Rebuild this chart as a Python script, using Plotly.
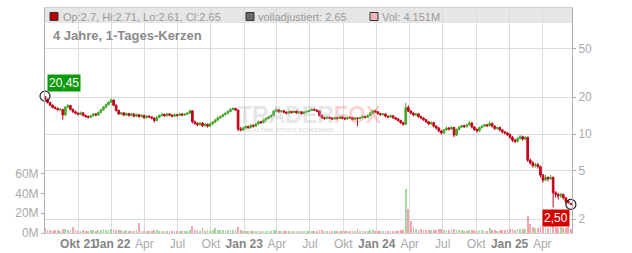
import math
import plotly.graph_objects as go
import pandas as pd

# ---------------- data (weekly candles) ----------------
dates = pd.date_range("2021-07-01", periods=208, freq="7D")

opens = [
    20.3, 19.2, 18.1, 17.2, 16.5, 16.2, 15.8, 15.9, 14.3, 16.6,
    17.1, 15.9, 15.2, 14.8, 14.5, 14.9, 14.2, 13.9, 13.7, 14.1,
    14.6, 14.3, 15.0, 15.8, 16.6, 17.4, 18.2, 19.0, 17.2, 15.6,
    14.6, 14.9, 14.3, 14.7, 14.2, 14.6, 14.0, 14.4, 13.9, 14.2,
    13.6, 14.0, 13.8, 13.5, 12.9, 13.7, 14.2, 14.5, 14.1, 14.6,
    14.3, 14.0, 14.4, 14.2, 14.6, 14.3, 14.5, 14.8, 15.5, 12.6,
    12.2, 11.9, 12.3, 11.7, 12.0, 11.6, 12.1, 12.5, 13.0, 13.6,
    13.9, 14.4, 14.8, 15.3, 15.9, 16.2, 15.7, 11.0, 10.8, 11.2,
    11.5, 11.3, 11.8, 11.6, 12.1, 12.6, 12.4, 13.0, 13.4, 13.8,
    14.2, 15.4, 15.8, 15.2, 15.5, 15.1, 14.8, 15.3, 15.0, 15.4,
    14.9, 15.2, 14.7, 15.1, 15.3, 15.6, 15.9, 15.7, 15.4, 14.2,
    13.6, 13.4, 13.7, 13.5, 13.3, 13.6, 13.4, 13.8, 13.5, 13.3,
    13.7, 13.6, 13.2, 13.5, 13.4, 13.6, 13.9, 13.7, 14.2, 14.8,
    15.5, 15.2, 14.7, 14.4, 14.6, 14.0, 13.8, 14.1, 13.6, 13.3,
    12.9, 12.4, 12.0, 16.5, 15.4, 14.8, 14.3, 14.6, 13.9, 13.5,
    13.1, 12.6, 12.1, 12.4, 11.6, 11.2, 10.6, 10.2, 10.8, 11.2,
    11.0, 11.3, 9.8, 10.9, 11.4, 11.7, 11.5, 11.9, 12.3, 11.4,
    10.9, 10.6, 11.3, 11.6, 11.9, 11.7, 12.2, 11.6, 11.1, 11.3,
    10.8, 10.4, 10.2, 9.9, 9.4, 8.9, 8.7, 9.2, 9.5, 9.1,
    9.4, 6.1, 5.8, 5.5, 5.6, 5.4, 4.6, 4.2, 4.4, 4.3,
    4.4, 3.3, 3.2, 3.1, 3.2, 3.0, 2.8, 2.7,
]
highs = [
    20.45, 19.5, 18.4, 17.5, 16.9, 16.5, 16.4, 16.1, 16.9, 17.6,
    17.3, 16.2, 15.5, 15.1, 15.3, 15.1, 14.4, 14.2, 14.4, 14.9,
    14.8, 15.3, 16.1, 16.9, 17.8, 18.6, 19.5, 19.2, 17.5, 15.9,
    15.2, 15.1, 15.0, 14.9, 14.9, 14.8, 14.7, 14.6, 14.5, 14.4,
    14.3, 14.2, 14.0, 13.7, 14.0, 14.5, 14.8, 14.7, 14.9, 14.8,
    14.5, 14.7, 14.6, 14.9, 14.8, 14.8, 15.1, 15.8, 15.6, 12.9,
    12.5, 12.6, 12.5, 12.3, 12.2, 12.4, 12.8, 13.3, 13.9, 14.2,
    14.7, 15.1, 15.6, 16.3, 16.6, 16.4, 15.9, 11.4, 11.5, 11.8,
    11.7, 12.0, 12.0, 12.3, 12.9, 12.8, 13.2, 13.7, 14.1, 14.5,
    15.7, 16.1, 16.0, 15.8, 15.7, 15.3, 15.6, 15.5, 15.7, 15.6,
    15.5, 15.4, 15.4, 15.6, 15.9, 16.3, 16.2, 15.9, 15.6, 14.4,
    13.9, 14.0, 13.9, 13.7, 13.9, 13.8, 14.1, 14.0, 13.7, 14.0,
    13.9, 13.8, 13.8, 13.7, 13.9, 14.2, 14.1, 14.5, 15.1, 15.8,
    15.7, 15.4, 14.9, 14.9, 14.8, 14.2, 14.4, 14.3, 13.8, 13.5,
    13.1, 12.6, 18.0, 17.2, 15.7, 15.1, 14.9, 14.8, 14.1, 13.7,
    13.3, 12.8, 12.7, 12.6, 11.8, 11.4, 10.8, 11.0, 11.5, 11.4,
    11.6, 11.5, 11.1, 11.6, 11.9, 11.9, 12.1, 12.8, 12.5, 11.6,
    11.1, 11.5, 11.8, 12.1, 12.1, 12.7, 12.4, 11.8, 11.5, 11.5,
    11.0, 10.6, 10.4, 10.1, 9.6, 9.1, 9.4, 9.8, 9.7, 9.6,
    9.5, 6.3, 6.0, 5.8, 5.8, 5.5, 4.7, 4.6, 4.5, 4.6,
    4.5, 3.4, 3.3, 3.3, 3.25, 3.05, 2.9, 2.71,
]
lows = [
    19.0, 17.8, 16.9, 16.2, 15.9, 15.5, 15.4, 13.1, 14.1, 16.3,
    15.6, 14.9, 14.5, 14.2, 14.3, 13.9, 13.6, 13.4, 13.5, 13.9,
    14.0, 14.1, 14.8, 15.5, 16.3, 17.1, 17.9, 16.9, 15.3, 14.3,
    14.3, 14.0, 14.1, 13.9, 14.0, 13.7, 13.8, 13.6, 13.7, 13.3,
    13.4, 13.5, 13.2, 12.4, 12.7, 13.5, 13.9, 13.8, 13.9, 14.0,
    13.7, 13.8, 13.9, 14.0, 14.0, 14.1, 14.3, 14.6, 12.2, 11.9,
    11.6, 11.7, 11.4, 11.5, 11.3, 11.4, 11.9, 12.3, 12.8, 13.3,
    13.7, 14.2, 14.6, 15.1, 15.6, 15.4, 10.5, 10.5, 10.6, 11.0,
    11.0, 11.1, 11.3, 11.4, 11.9, 12.1, 12.2, 12.8, 13.2, 13.6,
    14.0, 15.1, 14.9, 15.0, 14.8, 14.5, 14.6, 14.7, 14.8, 14.6,
    14.7, 14.4, 14.5, 14.9, 15.1, 15.4, 15.4, 15.1, 13.9, 13.3,
    13.1, 13.2, 13.2, 13.0, 13.1, 13.1, 13.2, 13.2, 13.0, 13.1,
    13.3, 12.9, 13.0, 11.6, 13.2, 13.4, 13.4, 13.5, 14.0, 14.6,
    14.9, 14.4, 14.1, 14.2, 13.7, 13.5, 13.6, 13.3, 13.0, 12.6,
    12.1, 11.7, 11.9, 15.1, 14.5, 14.0, 14.1, 13.6, 13.2, 12.8,
    12.3, 11.8, 11.9, 11.3, 10.9, 10.3, 9.9, 10.0, 10.6, 10.7,
    10.8, 9.4, 9.6, 10.7, 11.2, 11.2, 11.3, 11.7, 11.1, 10.6,
    10.3, 10.4, 11.1, 11.4, 11.4, 11.5, 11.3, 10.8, 10.9, 10.5,
    10.1, 9.9, 9.6, 9.1, 8.6, 8.4, 8.5, 9.0, 8.8, 8.9,
    5.9, 5.6, 5.3, 5.3, 5.2, 4.4, 4.0, 4.1, 4.1, 4.2,
    2.5, 3.0, 2.9, 3.0, 2.9, 2.7, 2.68, 2.61,
]
closes = [
    19.2, 18.1, 17.2, 16.5, 16.2, 15.8, 15.9, 14.3, 16.6, 17.1,
    15.9, 15.2, 14.8, 14.5, 14.9, 14.2, 13.9, 13.7, 14.1, 14.6,
    14.3, 15.0, 15.8, 16.6, 17.4, 18.2, 19.0, 17.2, 15.6, 14.6,
    14.9, 14.3, 14.7, 14.2, 14.6, 14.0, 14.4, 13.9, 14.2, 13.6,
    14.0, 13.8, 13.5, 12.9, 13.7, 14.2, 14.5, 14.1, 14.6, 14.3,
    14.0, 14.4, 14.2, 14.6, 14.3, 14.5, 14.8, 15.5, 12.6, 12.2,
    11.9, 12.3, 11.7, 12.0, 11.6, 12.1, 12.5, 13.0, 13.6, 13.9,
    14.4, 14.8, 15.3, 15.9, 16.2, 15.7, 11.0, 10.8, 11.2, 11.5,
    11.3, 11.8, 11.6, 12.1, 12.6, 12.4, 13.0, 13.4, 13.8, 14.2,
    15.4, 15.8, 15.2, 15.5, 15.1, 14.8, 15.3, 15.0, 15.4, 14.9,
    15.2, 14.7, 15.1, 15.3, 15.6, 15.9, 15.7, 15.4, 14.2, 13.6,
    13.4, 13.7, 13.5, 13.3, 13.6, 13.4, 13.8, 13.5, 13.3, 13.7,
    13.6, 13.2, 13.5, 13.4, 13.6, 13.9, 13.7, 14.2, 14.8, 15.5,
    15.2, 14.7, 14.4, 14.6, 14.0, 13.8, 14.1, 13.6, 13.3, 12.9,
    12.4, 12.0, 16.5, 15.4, 14.8, 14.3, 14.6, 13.9, 13.5, 13.1,
    12.6, 12.1, 12.4, 11.6, 11.2, 10.6, 10.2, 10.8, 11.2, 11.0,
    11.3, 9.8, 10.9, 11.4, 11.7, 11.5, 11.9, 12.3, 11.4, 10.9,
    10.6, 11.3, 11.6, 11.9, 11.7, 12.2, 11.6, 11.1, 11.3, 10.8,
    10.4, 10.2, 9.9, 9.4, 8.9, 8.7, 9.2, 9.5, 9.1, 9.4,
    6.1, 5.8, 5.5, 5.6, 5.4, 4.6, 4.2, 4.4, 4.3, 4.4,
    3.3, 3.2, 3.1, 3.2, 3.0, 2.8, 2.75, 2.65,
]
volumes_m = [
    5.5, 3.5, 3.0, 2.5, 2.8, 3.2, 2.4, 4.5, 4.0, 3.0,
    3.2, 6.0, 2.6, 2.4, 2.2, 3.0, 2.5, 2.3, 2.6, 3.5,
    2.4, 3.0, 3.2, 3.8, 3.5, 3.3, 4.0, 3.8, 3.4, 3.0,
    2.6, 2.4, 2.8, 2.2, 2.5, 2.3, 2.6, 10.0, 2.5, 2.4,
    2.2, 2.0, 2.4, 3.5, 2.6, 2.3, 2.1, 2.4, 2.2, 2.0,
    2.3, 2.1, 2.4, 2.2, 2.0, 2.3, 2.5, 3.0, 7.0, 3.5,
    3.0, 2.5, 5.5, 2.4, 2.6, 2.2, 3.0, 5.0, 3.2, 2.8,
    2.6, 2.5, 2.8, 3.0, 2.7, 2.6, 6.0, 3.2, 2.4, 2.2,
    2.0, 2.2, 2.1, 2.4, 2.3, 2.0, 2.2, 2.5, 2.3, 2.1,
    3.5, 3.0, 2.4, 2.2, 2.0, 2.1, 2.3, 2.0, 2.2, 2.1,
    2.0, 1.9, 2.2, 2.1, 2.3, 2.4, 2.0, 2.2, 3.5, 2.6,
    2.2, 2.0, 2.1, 1.9, 2.0, 2.2, 2.1, 2.0, 1.9, 2.1,
    2.0, 2.2, 2.1, 3.8, 2.2, 2.0, 2.1, 2.3, 2.6, 2.8,
    2.4, 2.2, 2.0, 2.1, 2.3, 2.2, 2.0, 2.2, 2.3, 2.4,
    2.6, 3.0, 44.0, 24.0, 12.0, 6.0, 4.5, 3.5, 3.8, 3.2,
    3.0, 3.4, 3.0, 3.5, 3.2, 4.0, 3.6, 3.0, 2.8, 2.6,
    2.7, 4.2, 3.0, 2.8, 2.6, 2.4, 2.5, 3.0, 2.8, 2.6,
    2.5, 2.7, 2.6, 2.5, 2.4, 5.5, 2.8, 2.6, 2.5, 2.7,
    3.0, 2.8, 3.2, 3.6, 4.0, 3.5, 3.8, 4.5, 3.6, 4.0,
    17.5, 9.5, 6.0, 5.0, 5.5, 7.5, 6.5, 9.0, 5.5, 6.0,
    10.0, 6.5, 5.5, 6.0, 5.0, 5.5, 6.0, 4.2,
]
assert len(opens) == len(highs) == len(lows) == len(closes) == len(volumes_m) == len(dates)

price_ticks = [2, 5, 10, 20, 50]
vol_ticks_m = [0, 20, 40, 60]
vol_tick_labels = ["0M", "20M", "40M", "60M"]
quarter_dates = ["2021-10-01", "2022-01-01", "2022-04-01", "2022-07-01", "2022-10-01",
                 "2023-01-01", "2023-04-01", "2023-07-01", "2023-10-01", "2024-01-01",
                 "2024-04-01", "2024-07-01", "2024-10-01", "2025-01-01", "2025-04-01"]
quarter_labels = ["Okt 21", "Jan 22", "Apr", "Jul", "Okt", "Jan 23", "Apr", "Jul", "Okt",
                  "Jan 24", "Apr", "Jul", "Okt", "Jan 25", "Apr"]
bold_flags = [True, True, False, False, False, True, False, False, False,
              True, False, False, False, True, False]
header_items = ["Op:2.7, Hi:2.71, Lo:2.61, Cl:2.65", "volladjustiert: 2.65", "Vol: 4.151M"]
title_text = "4 Jahre, 1-Tages-Kerzen"
start_label = "20,45"
min_label = "2,50"
min_value = 2.50
min_index = 200

# ---------------- styling / geometry ----------------
W, H = 632, 253
ML, MR, MT, MB = 45, 60, 8, 20
PW, PH = W - ML - MR, H - MT - MB
FONT = "Liberation Sans, Arial, sans-serif"
GREEN, RED = "#48a62a", "#c40018"
VGREEN, VPINK = "rgba(150,210,145,0.85)", "rgba(240,150,160,0.85)"


def px(x):
    return (x - ML) / PW


def py(y):
    return (H - MB - y) / PH


vol_colors = [VGREEN if c >= o else VPINK for o, c in zip(opens, closes)]

fig = go.Figure()
fig.add_trace(go.Bar(
    x=dates, y=[v * 1e6 for v in volumes_m], marker_color=vol_colors,
    marker_line_width=0, width=7 * 86400000 * 0.7, yaxis="y", hoverinfo="skip"))
fig.add_trace(go.Candlestick(
    x=dates, open=opens, high=highs, low=lows, close=closes, yaxis="y2",
    increasing=dict(line=dict(color=GREEN, width=1), fillcolor=GREEN),
    decreasing=dict(line=dict(color=RED, width=1), fillcolor=RED),
    whiskerwidth=0))
fig.add_trace(go.Scatter(
    x=[dates[0], dates[-1]], y=[highs[0], closes[-1]], yaxis="y2", mode="markers",
    marker=dict(symbol="circle-open", size=10, color="#222", line=dict(width=1.2)),
    cliponaxis=False, hoverinfo="skip"))

ticktext = [f"<b><span style='color:#858585'>{t}</span></b>" if b else t
            for t, b in zip(quarter_labels, bold_flags)]

shapes = [
    dict(type="rect", xref="paper", yref="paper", x0=0, x1=1, y0=py(23), y1=1,
         fillcolor="#e6e6e6", line=dict(width=0), layer="below"),
]
sq_x = [50, 246, 370]
sq_fill = ["#c00000", "#6a6a6a", "#f2b3bb"]
for x0, fc in zip(sq_x, sq_fill):
    shapes.append(dict(type="rect", xref="paper", yref="paper", x0=px(x0), x1=px(x0 + 8),
                       y0=py(20.5), y1=py(12.5), fillcolor=fc, line=dict(color="#333", width=1)))

annotations = []
text_x = [61, 256, 380]
for tx, txt in zip(text_x, header_items):
    annotations.append(dict(xref="paper", yref="paper", x=px(tx), y=py(16.5), text=txt,
                            showarrow=False, xanchor="left", yanchor="middle",
                            font=dict(family=FONT, size=11, color="#9a9a9a")))
annotations.append(dict(xref="paper", yref="paper", x=px(51), y=py(35), text=f"<b>{title_text}</b>",
                        showarrow=False, xanchor="left", yanchor="middle",
                        font=dict(family=FONT, size=13, color="#8a8a8a")))
# watermark
annotations.append(dict(xref="paper", yref="paper", x=px(310), y=py(115.5),
                        text="<b><span style='color:rgba(175,175,175,0.32)'>TRADER</span>"
                             "<span style='color:rgba(240,120,120,0.32)'>FOX</span></b>",
                        showarrow=False, xanchor="center", yanchor="middle",
                        font=dict(family=FONT, size=23)))
annotations.append(dict(xref="paper", yref="paper", x=px(289), y=py(129.5),
                        text="<b>REALTIME STOCK SCREENING</b>",
                        showarrow=False, xanchor="center", yanchor="middle",
                        font=dict(family=FONT, size=6, color="rgba(175,175,175,0.4)")))
# value labels
annotations.append(dict(xref="x", yref="y2", x=dates[0], y=math.log10(highs[0]),
                        text=start_label, showarrow=False, xanchor="left", yanchor="bottom",
                        xshift=2, yshift=4, bgcolor="#0c9a0c", borderpad=1,
                        font=dict(family=FONT, size=12, color="white")))
annotations.append(dict(xref="x", yref="y2", x=dates[min_index], y=math.log10(min_value),
                        text=min_label, showarrow=False, xanchor="center", yanchor="top",
                        xshift=3, yshift=-2, bgcolor="#d40000", borderpad=1,
                        font=dict(family=FONT, size=12, color="white")))

fig.update_layout(
    width=W, height=H,
    margin=dict(l=ML, r=MR, t=MT, b=MB, autoexpand=False),
    paper_bgcolor="white", plot_bgcolor="white",
    showlegend=False, bargap=0, boxgap=0.35, boxgroupgap=0,
    font=dict(family=FONT, size=12, color="#aaaaaa"),
    xaxis=dict(type="date", range=["2021-07-01", "2025-06-22"], tickvals=quarter_dates,
               ticktext=ticktext, tickangle=0, showgrid=True, gridcolor="#dcdcdc", gridwidth=1,
               ticks="", showline=True, linecolor="#d0d0d0", mirror=True,
               rangeslider=dict(visible=False), tickfont=dict(size=12, color="#aaaaaa"),
               zeroline=False, fixedrange=True),
    yaxis=dict(range=[0, 227e6], side="left", tickvals=[v * 1e6 for v in vol_ticks_m],
               ticktext=vol_tick_labels, showgrid=False, zeroline=False,
               ticks="outside", ticklen=3, tickcolor="#aaaaaa", showline=True,
               linecolor="#b0b0b0", tickfont=dict(size=12, color="#aaaaaa")),
    yaxis2=dict(type="log", range=[0.1887, 2.0326], side="right", overlaying="y",
                tickvals=price_ticks, ticktext=[str(t) for t in price_ticks],
                showgrid=True, gridcolor="#dcdcdc", gridwidth=1, zeroline=False,
                ticks="outside", ticklen=3, tickcolor="#aaaaaa", showline=True,
                linecolor="#b0b0b0", tickfont=dict(size=12, color="#aaaaaa")),
    shapes=shapes, annotations=annotations,
)

fig.write_html("out.html")
